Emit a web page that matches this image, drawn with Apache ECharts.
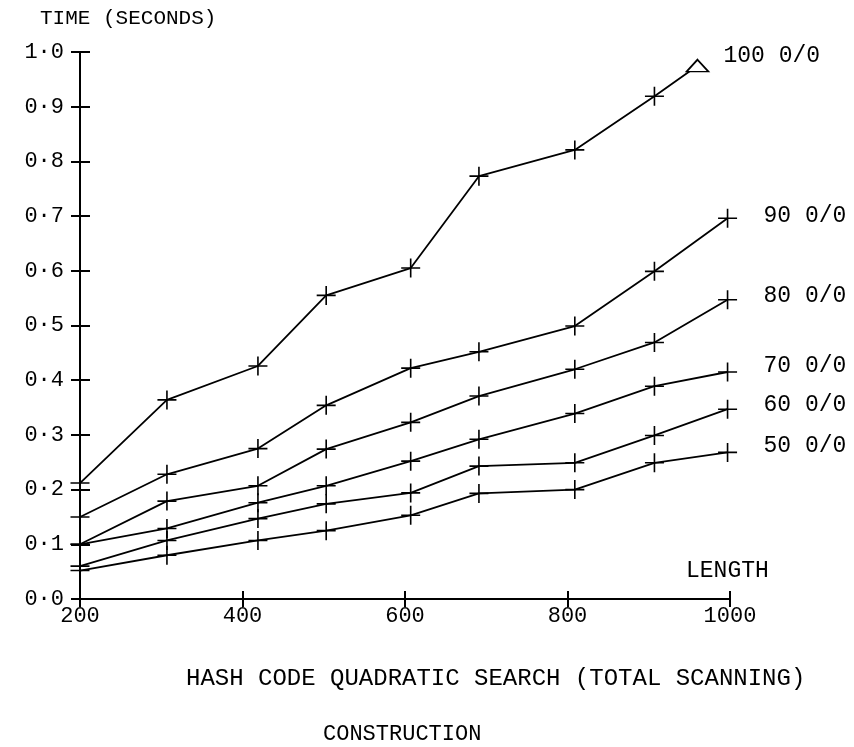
<!DOCTYPE html>
<html><head><meta charset="utf-8">
<script src="https://cdn.jsdelivr.net/npm/echarts@6/dist/echarts.min.js"></script>
<style>html,body{margin:0;background:#fff}#c{width:854px;height:747px}</style>
</head><body><div id="c"></div>
<script>
// Table lengths (x) and times in seconds (y)
const lengths = [200, 307, 419, 503, 607, 691, 809, 907, 997];
const lengths100 = [200, 307, 419, 503, 607, 691, 809, 907, 960];
const load100 = [0.212, 0.364, 0.426, 0.555, 0.605, 0.773, 0.821, 0.919, 0.975];
const load90 = [0.150, 0.228, 0.275, 0.354, 0.422, 0.452, 0.499, 0.599, 0.696];
const load80 = [0.100, 0.179, 0.207, 0.274, 0.323, 0.371, 0.420, 0.469, 0.547];
const load70 = [0.100, 0.129, 0.176, 0.207, 0.252, 0.292, 0.339, 0.389, 0.415];
const load60 = [0.060, 0.107, 0.147, 0.174, 0.194, 0.243, 0.249, 0.299, 0.347];
const load50 = [0.052, 0.080, 0.107, 0.125, 0.153, 0.193, 0.200, 0.249, 0.268];
const seriesNames = ['100 0/0', '90 0/0', '80 0/0', '70 0/0', '60 0/0', '50 0/0'];
const yTickLabels = ['0·0','0·1','0·2','0·3','0·4','0·5','0·6','0·7','0·8','0·9','1·0'];
const xTickLabels = { 200: '200', 400: '400', 600: '600', 800: '800', 1000: '1000' };
const yAxisTitle = 'TIME (SECONDS)';
const xAxisTitle = 'LENGTH';
const titleLine1 = 'HASH CODE QUADRATIC SEARCH (TOTAL SCANNING)';
const titleLine2 = 'CONSTRUCTION';

const FONT = 'Liberation Mono';
const CROSS = 'path://M-0.85,-10H0.85V10H-0.85Z M-10,-0.85H10V0.85H-10Z';

function pairs(xs, ys) { return xs.map((x, i) => [x, ys[i]]); }

const labelOffsets = [[26, -10], [36, -2], [36, -4], [36, -6], [36, -4], [36, -6]];
const allY = [load100, load90, load80, load70, load60, load50];

const series = allY.map((ys, si) => {
  const xs = si === 0 ? lengths100 : lengths;
  const data = pairs(xs, ys).map((p, i) => {
    if (si === 0 && i === xs.length - 1) {
      return { value: p, symbol: 'triangle', symbolSize: [22, 12],
        itemStyle: { color: '#fff', borderColor: '#000', borderWidth: 1.6 } };
    }
    return p;
  });
  return {
    type: 'line', name: seriesNames[si], data,
    symbol: CROSS, symbolSize: 19, showAllSymbol: true, clip: false,
    lineStyle: { color: '#000', width: 1.8 },
    itemStyle: { color: '#000' },
    emphasis: { disabled: true },
    animation: false,
    endLabel: { show: true, formatter: seriesNames[si], distance: 0,
      offset: labelOffsets[si], color: '#000', fontFamily: FONT, fontSize: 23 }
  };
});

const chart = echarts.init(document.getElementById('c'));
chart.setOption({
  backgroundColor: '#fff',
  animation: false,
  grid: { left: 80, right: 124, top: 52, bottom: 148 },
  xAxis: [
    { type: 'value', min: 200, max: 1000, interval: 200, position: 'bottom',
      axisLine: { lineStyle: { color: '#000', width: 2 } },
      axisTick: { show: true, length: 8, lineStyle: { color: '#000', width: 2 } },
      axisLabel: { color: '#000', fontFamily: FONT, fontSize: 22, margin: 6,
        formatter: v => xTickLabels[v] },
      splitLine: { show: false } },
    { type: 'value', min: 200, max: 1000, interval: 200, position: 'bottom', offset: 0,
      axisLine: { show: false },
      axisTick: { show: true, inside: true, length: 8, lineStyle: { color: '#000', width: 2 } },
      axisLabel: { show: false }, splitLine: { show: false } }
  ],
  yAxis: [
    { type: 'value', min: 0, max: 1, interval: 0.1, position: 'left',
      axisLine: { show: true, lineStyle: { color: '#000', width: 2 } },
      axisTick: { show: true, length: 9, lineStyle: { color: '#000', width: 2 } },
      axisLabel: { color: '#000', fontFamily: FONT, fontSize: 22, margin: 16,
        formatter: v => yTickLabels[Math.round(v * 10)] },
      splitLine: { show: false } },
    { type: 'value', min: 0, max: 1, interval: 0.1, position: 'left', offset: 0,
      axisLine: { show: false },
      axisTick: { show: true, inside: true, length: 10, lineStyle: { color: '#000', width: 2 } },
      axisLabel: { show: false }, splitLine: { show: false } }
  ],
  graphic: [
    { type: 'text', left: 40, top: 8, style: { text: yAxisTitle, fill: '#000', font: '21px ' + FONT } },
    { type: 'text', left: 686, top: 559, style: { text: xAxisTitle, fill: '#000', font: '23px ' + FONT } },
    { type: 'text', left: 186, top: 667, style: { text: titleLine1, fill: '#000', font: '24px ' + FONT } },
    { type: 'text', left: 323, top: 723, style: { text: titleLine2, fill: '#000', font: '22px ' + FONT } }
  ],
  series
});
</script></body></html>
